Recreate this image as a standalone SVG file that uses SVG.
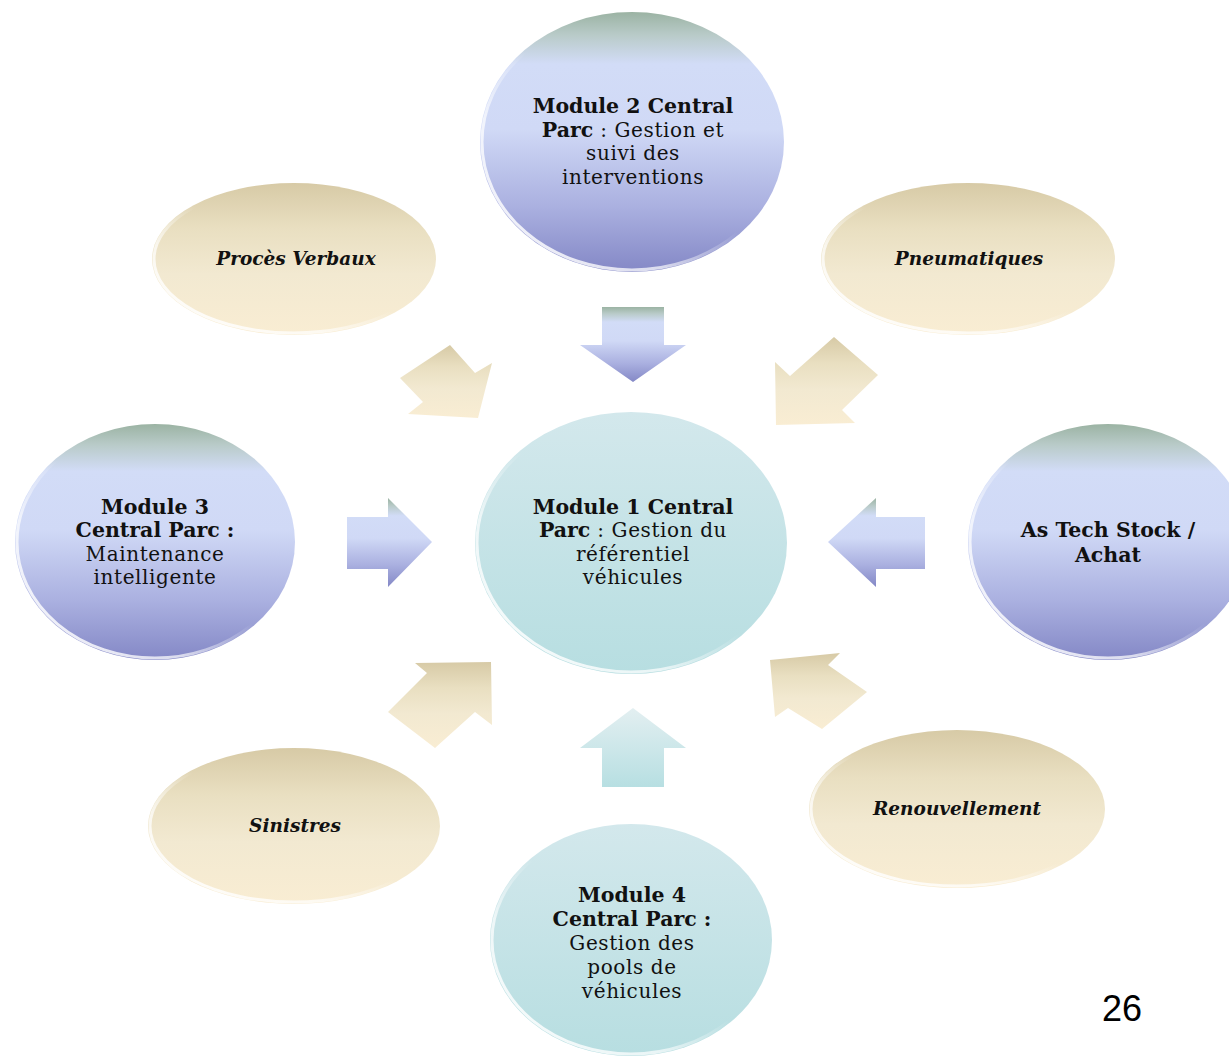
<svg xmlns="http://www.w3.org/2000/svg" width="1229" height="1058" viewBox="0 0 1229 1058">
<defs>
<linearGradient id="blueG" x1="0" y1="0" x2="0" y2="1">
<stop offset="0" stop-color="#9bb3a3"/>
<stop offset="0.09" stop-color="#b9cbc9"/>
<stop offset="0.2" stop-color="#d2dcf7"/>
<stop offset="0.45" stop-color="#d0d9f6"/>
<stop offset="0.75" stop-color="#aab0e0"/>
<stop offset="1" stop-color="#8488c6"/>
</linearGradient>
<linearGradient id="tealG" x1="0" y1="0" x2="0" y2="1">
<stop offset="0" stop-color="#d3e8ec"/>
<stop offset="1" stop-color="#b7dee1"/>
</linearGradient>
<linearGradient id="tealA" x1="0" y1="0" x2="0" y2="1">
<stop offset="0" stop-color="#e3eff1"/>
<stop offset="1" stop-color="#b7dfe2"/>
</linearGradient>
<linearGradient id="beigeG" x1="0" y1="0" x2="0" y2="1">
<stop offset="0" stop-color="#d7caa6"/>
<stop offset="0.3" stop-color="#e9dfc1"/>
<stop offset="0.6" stop-color="#f2e9d1"/>
<stop offset="1" stop-color="#f9edd3"/>
</linearGradient>
<linearGradient id="rim" x1="0" y1="1" x2="1" y2="0">
<stop offset="0" stop-color="#ffffff" stop-opacity="0.95"/>
<stop offset="0.3" stop-color="#ffffff" stop-opacity="0.7"/>
<stop offset="0.5" stop-color="#ffffff" stop-opacity="0"/>
</linearGradient>
</defs>
<style>
.blue{fill:url(#blueG)}
.teal{fill:url(#tealG)}
.tealA{fill:url(#tealA)}
.beige{fill:url(#beigeG)}
.rim{fill:none;stroke:url(#rim);stroke-width:3}
text{font-family:"DejaVu Serif","Liberation Serif",serif;fill:#111;text-anchor:middle}
.b{font-weight:bold;font-size:20.5px}
.r{font-weight:normal;font-size:20px;letter-spacing:0.6px}
.bi{font-weight:bold;font-style:italic;font-size:18.5px}
.num{font-family:"Liberation Sans",Arial,sans-serif;font-size:36px;fill:#000}
</style>
<rect width="1229" height="1058" fill="#ffffff"/>

<g id="connectors">
<path class="blue" d="M602,307 L664,307 L664,345 L686,345 L633,382 L580,345 L602,345 Z"/>
<path class="blue" d="M347,517 L388,517 L388,498 L432,542 L388,587 L388,569 L347,569 Z"/>
<path class="blue" d="M925,517 L876,517 L876,498 L828,542 L876,587 L876,569 L925,569 Z"/>
<path class="tealA" d="M602,787 L664,787 L664,748 L686,748 L633,708 L580,748 L602,748 Z"/>
<path class="beige" d="M450,345 L475,373 L492,363 L478,418 L408,414 L423,402 L400,378 Z"/>
<path class="beige" d="M834,337 L878,375 L842,410 L855,423 L776,425 L775,362 L790,376 Z"/>
<path class="beige" d="M415,663 L491,662 L492,725 L475,712 L435,748 L388,712 L427,673 Z"/>
<path class="beige" d="M770,660 L840,653 L828,665 L867,692 L822,729 L788,708 L775,717 Z"/>
</g>

<g id="module2">
<ellipse class="blue" cx="632" cy="142" rx="152" ry="130"/>
<ellipse class="rim" cx="632" cy="142" rx="150" ry="128"/>
<text class="b" x="633" y="113">Module 2 Central</text>
<text x="633" y="137"><tspan class="b">Parc</tspan><tspan class="r"> : Gestion et</tspan></text>
<text class="r" x="633" y="160">suivi des</text>
<text class="r" x="633" y="184">interventions</text>
</g>

<g id="proces-verbaux">
<ellipse class="beige" cx="294" cy="259" rx="142" ry="76"/>
<ellipse class="rim" cx="294" cy="259" rx="140" ry="74"/>
<text class="bi" x="296" y="265">Procès Verbaux</text>
</g>

<g id="pneumatiques">
<ellipse class="beige" cx="968" cy="259" rx="147" ry="76"/>
<ellipse class="rim" cx="968" cy="259" rx="145" ry="74"/>
<text class="bi" x="969" y="265">Pneumatiques</text>
</g>

<g id="module3">
<ellipse class="blue" cx="155" cy="542" rx="140" ry="118"/>
<ellipse class="rim" cx="155" cy="542" rx="138" ry="116"/>
<text class="b" x="155" y="514">Module 3</text>
<text class="b" x="155" y="537">Central Parc :</text>
<text class="r" x="155" y="561">Maintenance</text>
<text class="r" x="155" y="584">intelligente</text>
</g>

<g id="module1">
<ellipse class="teal" cx="631" cy="543" rx="156" ry="131"/>
<ellipse class="rim" cx="631" cy="543" rx="154" ry="129"/>
<text class="b" x="633" y="514">Module 1 Central</text>
<text x="633" y="537"><tspan class="b">Parc</tspan><tspan class="r"> : Gestion du</tspan></text>
<text class="r" x="633" y="561">référentiel</text>
<text class="r" x="633" y="584">véhicules</text>
</g>

<g id="as-tech">
<ellipse class="blue" cx="1108" cy="542" rx="140" ry="118"/>
<ellipse class="rim" cx="1108" cy="542" rx="138" ry="116"/>
<text class="b" x="1108" y="537">As Tech Stock /</text>
<text class="b" x="1108" y="562">Achat</text>
</g>

<g id="sinistres">
<ellipse class="beige" cx="294" cy="826" rx="146" ry="78"/>
<ellipse class="rim" cx="294" cy="826" rx="144" ry="76"/>
<text class="bi" x="295" y="832">Sinistres</text>
</g>

<g id="renouvellement">
<ellipse class="beige" cx="957" cy="809" rx="148" ry="79"/>
<ellipse class="rim" cx="957" cy="809" rx="146" ry="77"/>
<text class="bi" x="957" y="815">Renouvellement</text>
</g>

<g id="module4">
<ellipse class="teal" cx="631" cy="940" rx="141" ry="116"/>
<ellipse class="rim" cx="631" cy="940" rx="139" ry="114"/>
<text class="b" x="632" y="902">Module 4</text>
<text class="b" x="632" y="926">Central Parc :</text>
<text class="r" x="632" y="950">Gestion des</text>
<text class="r" x="632" y="974">pools de</text>
<text class="r" x="632" y="998">véhicules</text>
</g>

<text class="num" x="1122" y="1021">26</text>
</svg>
